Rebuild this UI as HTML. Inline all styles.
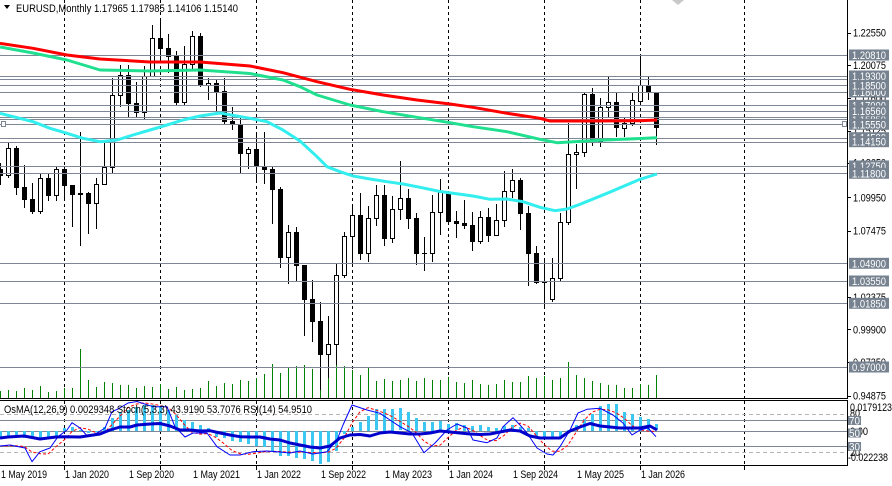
<!DOCTYPE html>
<html><head><meta charset="utf-8">
<style>
html,body{margin:0;padding:0;background:#fff;width:892px;height:486px;overflow:hidden}
svg{display:block}
text{font-family:"Liberation Sans",Arial,sans-serif;font-size:11px}
</style></head><body>
<svg id="s" width="892" height="486" viewBox="0 0 892 486" xmlns="http://www.w3.org/2000/svg">
<defs>
<clipPath id="cm"><rect x="0" y="0" width="847" height="398"/></clipPath>
<clipPath id="ci"><rect x="0" y="401" width="847" height="64"/></clipPath>
</defs>
<rect width="892" height="486" fill="#fff"/>
<g id="gm" clip-path="url(#cm)"></g>
<g id="gi" clip-path="url(#ci)"></g>

<!-- borders -->
<g shape-rendering="crispEdges" stroke="#000" stroke-width="1">
<line x1="847.5" y1="0" x2="847.5" y2="398"/>
<line x1="0" y1="398.5" x2="848" y2="398.5"/>
<line x1="0" y1="400.5" x2="848" y2="400.5"/>
<line x1="0" y1="465.5" x2="848" y2="465.5"/>
<line x1="847.5" y1="400" x2="847.5" y2="466"/>
</g>

<!-- header -->
<polygon points="4,5 10,5 7,9" fill="#000"/>
<text x="16" y="12" textLength="222" lengthAdjust="spacingAndGlyphs" fill="#000">EURUSD,Monthly  1.17965 1.17985 1.14106 1.15140</text>
<polygon points="672,0 684,0 678,5" fill="#c8c8c8"/>

<text x="4" y="413" textLength="308" lengthAdjust="spacingAndGlyphs" fill="#000">OsMA(12,26,9) 0.0029348  Stoch(5,3,3) 43.9190 53.7076  RSI(14) 54.9510</text>

<g id="scale"></g>

<!-- time axis -->
<g fill="#000">
<text x="1" y="478" textLength="46" lengthAdjust="spacingAndGlyphs">1 May 2019</text>
<text x="65" y="478" textLength="44" lengthAdjust="spacingAndGlyphs">1 Jan 2020</text>
<text x="129" y="478" textLength="45" lengthAdjust="spacingAndGlyphs">1 Sep 2020</text>
<text x="193" y="478" textLength="47" lengthAdjust="spacingAndGlyphs">1 May 2021</text>
<text x="257" y="478" textLength="44" lengthAdjust="spacingAndGlyphs">1 Jan 2022</text>
<text x="321" y="478" textLength="45" lengthAdjust="spacingAndGlyphs">1 Sep 2022</text>
<text x="385" y="478" textLength="47" lengthAdjust="spacingAndGlyphs">1 May 2023</text>
<text x="449" y="478" textLength="44" lengthAdjust="spacingAndGlyphs">1 Jan 2024</text>
<text x="513" y="478" textLength="45" lengthAdjust="spacingAndGlyphs">1 Sep 2024</text>
<text x="577" y="478" textLength="47" lengthAdjust="spacingAndGlyphs">1 May 2025</text>
<text x="641" y="478" textLength="44" lengthAdjust="spacingAndGlyphs">1 Jan 2026</text>
</g>
</svg>
<script>
(function(){
const NS="http://www.w3.org/2000/svg";
function el(tag,attrs,parent,txt){const e=document.createElementNS(NS,tag);for(const k in attrs)e.setAttribute(k,attrs[k]);if(txt!==undefined)e.textContent=txt;parent.appendChild(e);return e;}
const gm=document.getElementById('gm'), gi=document.getElementById('gi'), sc=document.getElementById('scale');
const Y=p=>32.7+(1.2255-p)*1311.6;
const LC="#7d8795", BOX="#76828f";

// vertical dashed grid
[64,160,256,352,448,544,640,744].forEach(x=>{
  el('line',{x1:x+0.5,y1:0,x2:x+0.5,y2:398,stroke:"#000","stroke-dasharray":"3,3","shape-rendering":"crispEdges"},gm);
  el('line',{x1:x+0.5,y1:401,x2:x+0.5,y2:465,stroke:"#000","stroke-dasharray":"3,3","shape-rendering":"crispEdges"},gi);
  el('line',{x1:x+0.5,y1:466,x2:x+0.5,y2:470,stroke:"#000","shape-rendering":"crispEdges"},sc);
});

// volume
const V=[391,390,391,388.3,390,386,392,390.7,388.3,388.3,349,380,386.7,382,382.7,385,385,388.3,386,386.7,384.3,389.3,387,390,389,388.3,381,386,382.7,384,380,381,378.3,374,364,372.7,367.7,366,365,369,359.3,356.7,359,366,370,374.7,367.7,381,379,380.7,380,377.7,380.7,378,380,380,377.3,382,382.7,380,384,384.7,384,380.3,381.7,381.7,376,378,376,380,378.3,362,375,378.3,381,382.7,385,385,388,388,384,385,375];
V.forEach((v,k)=>{el('line',{x1:8*k+0.5,y1:398,x2:8*k+0.5,y2:Math.round(v),stroke:"#008000","shape-rendering":"crispEdges"},gm);});

// candles
const P=[[1.1215,1.1265,1.1105,1.1169],[1.1169,1.1412,1.1158,1.1373],[1.1373,1.1389,1.1027,1.1076],[1.1076,1.1250,1.0926,1.0989],[1.0989,1.1110,1.0879,1.0899],[1.0899,1.1179,1.0879,1.1151],[1.1151,1.1175,1.0981,1.1017],[1.1017,1.1240,1.0981,1.1213],[1.1213,1.1239,1.0992,1.1093],[1.1093,1.1095,1.0778,1.1026],[1.1026,1.1495,1.0636,1.1030],[1.1030,1.1039,1.0727,1.0954],[1.0954,1.1147,1.0767,1.1101],[1.1101,1.1422,1.1100,1.1234],[1.1234,1.1909,1.1186,1.1778],[1.1778,1.2011,1.1696,1.1936],[1.1936,1.2011,1.1612,1.1721],[1.1721,1.1881,1.1622,1.1647],[1.1647,1.2004,1.1603,1.1927],[1.1927,1.2310,1.1925,1.2216],[1.2216,1.2349,1.2054,1.2136],[1.2136,1.2243,1.1952,1.2075],[1.2075,1.2113,1.1704,1.1730],[1.1730,1.2150,1.1704,1.2020],[1.2020,1.2266,1.1986,1.2228],[1.2228,1.2254,1.1847,1.1858],[1.1858,1.1909,1.1752,1.1870],[1.1870,1.1900,1.1664,1.1808],[1.1808,1.1909,1.1563,1.1578],[1.1578,1.1692,1.1524,1.1558],[1.1558,1.1616,1.1186,1.1338],[1.1338,1.1386,1.1222,1.1370],[1.1370,1.1483,1.1121,1.1235],[1.1235,1.1495,1.1106,1.1217],[1.1217,1.1233,1.0806,1.1067],[1.1067,1.1076,1.0471,1.0545],[1.0545,1.0786,1.0349,1.0734],[1.0734,1.0773,1.0359,1.0484],[1.0484,1.0486,0.9952,1.0222],[1.0222,1.0369,0.9901,1.0055],[1.0055,1.0198,0.9536,0.9802],[0.9802,1.0094,0.9632,0.9883],[0.9883,1.0497,0.9730,1.0405],[1.0405,1.0736,1.0393,1.0705],[1.0705,1.0929,1.0483,1.0863],[1.0863,1.1033,1.0533,1.0576],[1.0576,1.0930,1.0516,1.0840],[1.0840,1.1095,1.0788,1.1016],[1.1016,1.1092,1.0635,1.0689],[1.0689,1.1012,1.0662,1.0910],[1.0910,1.1276,1.0834,1.0998],[1.0998,1.1065,1.0766,1.0843],[1.0843,1.0882,1.0488,1.0573],[1.0573,1.0695,1.0448,1.0575],[1.0575,1.1017,1.0516,1.0886],[1.0886,1.1140,1.0724,1.1039],[1.1039,1.1046,1.0795,1.0818],[1.0818,1.0898,1.0695,1.0805],[1.0805,1.0981,1.0768,1.0790],[1.0790,1.0885,1.0601,1.0668],[1.0668,1.0895,1.0650,1.0848],[1.0848,1.0916,1.0668,1.0713],[1.0713,1.0948,1.0709,1.0825],[1.0825,1.1202,1.0778,1.1047],[1.1047,1.1214,1.1001,1.1135],[1.1135,1.1146,1.0761,1.0884],[1.0884,1.0937,1.0333,1.0577],[1.0577,1.0630,1.0343,1.0354],[1.0354,1.0533,1.0178,1.0362]];
const Q=[[299.3,258,300.7,278.3],[277.7,213,280,221.7],[221.7,122.7,224,154.3],[154.3,144.3,188.3,151.7],[151.7,92,156,94.3],[94.3,88.3,145,140.7],[140.7,98.3,146,107.3],[106.7,76.7,116.7,101.7],[101.7,93.3,136,126.7],[127.7,118.3,136,123.3],[123.3,91.7,125,100],[100.7,55,100.7,85],[85.7,76,99.3,90.7],[92.7,92.7,144,127]];
const C=P.map(r=>r.map(Y)).concat(Q);
const gc=el('g',{"shape-rendering":"crispEdges"},gm);
C.forEach((r,k)=>{
  const x=8*k;const [o,h,l,c]=r;
  const top=Math.round(Math.min(o,c)), bot=Math.round(Math.max(o,c));
  el('line',{x1:x+0.5,y1:Math.round(h),x2:x+0.5,y2:Math.round(l)+1,stroke:"#000"},gc);
  if(bot-top<1){
    el('line',{x1:x-2,y1:top+0.5,x2:x+3,y2:top+0.5,stroke:"#000"},gc);
  } else {
    el('rect',{x:x-1.5,y:top+0.5,width:4,height:bot-top,fill:(c<o?"#fff":"#000"),stroke:"#000"},gc);
  }
});

// horizontal lines
const HL=[55,76,78.7,85.3,92,105.3,111,117.3,119.3,124.3,137.7,141.7,166,173.3,263.3,281,303.3,367];
HL.forEach(y=>{el('line',{x1:0,y1:Math.round(y)+0.5,x2:847,y2:Math.round(y)+0.5,stroke:LC,"shape-rendering":"crispEdges"},gm);});
el('rect',{x:1.5,y:121.5,width:4,height:5,fill:"#fff",stroke:LC,"shape-rendering":"crispEdges"},gm);
el('rect',{x:842.5,y:121.5,width:4,height:5,fill:"#fff",stroke:LC,"shape-rendering":"crispEdges"},gm);

// moving averages
function pl(pts,color,w,parent,extra){const a={points:pts.map(p=>p.join(',')).join(' '),fill:"none",stroke:color,"stroke-width":w,"stroke-linejoin":"round"};for(const k in (extra||{}))a[k]=extra[k];return el('polyline',a,parent);}
const green=[[0,47],[33,53],[67,60],[100,70],[150,71],[200,70],[250,73.5],[283,80],[300,86.7],[317,95],[350,105],[383,111.7],[417,117.3],[450,122.7],[473,126.7],[507,131.7],[540,139.3],[557,142.7],[590,140.7],[623,139.3],[657,137.7]];
const red=[[0,43.3],[33,48.3],[67,55],[100,59],[150,62],[200,62],[250,66],[283,72.7],[317,81.7],[350,89.3],[383,95],[417,100],[450,104],[473,107.3],[507,113.3],[540,118.3],[550,121],[590,121],[640,120.7],[657,120]];
const cyan=[[0,113.3],[33,121.7],[50,128.3],[67,133.3],[83,138.3],[100,141.7],[117,140],[133,135],[150,130],[167,125],[183,120],[200,116],[220,113],[250,118.3],[267,121.7],[283,130],[300,141],[317,156.7],[327,166.7],[340,171.7],[353,176],[370,179],[387,181.7],[403,184],[420,187.3],[440,191.5],[473,196],[490,199.3],[507,199],[523,201.7],[540,207.3],[555,210.7],[567,209],[580,204.3],[607,193.3],[640,179.3],[657,174]];
pl(cyan,"#33eeee",3,gm);
pl(green,"#20e090",3,gm);
pl(red,"#ff0000",3,gm);

// price scale labels
function stxt(y,t){el('line',{x1:847,y1:Math.round(y)+0.5,x2:851,y2:Math.round(y)+0.5,stroke:"#000","shape-rendering":"crispEdges"},sc);el('text',{x:853,y:y+4,fill:"#000",textLength:33,lengthAdjust:"spacingAndGlyphs"},sc,t);}
[[32.7,"1.22550"],[65,"1.20075"],[98,"1.17600"],[130.5,"1.15125"],[162.5,"1.12650"],[197.3,"1.09950"],[230.7,"1.07475"],[297,"1.02375"],[329.3,"0.99900"],[362,"0.97350"],[395.7,"0.94875"]].forEach(a=>stxt(a[0],a[1]));
function box(y,t){el('rect',{x:849,y:y-5.5,width:40,height:11,fill:BOX},sc);el('text',{x:852,y:y+4,fill:"#fff",textLength:34,lengthAdjust:"spacingAndGlyphs"},sc,t);}
[[92,"1.18000"],[105.3,"1.17000"],[117.3,"1.15900"],[119.3,"1.15850"],[166,"1.12750"],[55,"1.20810"],[76,"1.19300"],[85.3,"1.18500"],[111,"1.16560"],[137.7,"1.14500"],[124.3,"1.15550"],[141.7,"1.14150"],[173.3,"1.11800"],[263.3,"1.04900"],[281,"1.03550"],[303.3,"1.01850"],[367,"0.97000"]].forEach(a=>box(a[0],a[1]));

// indicator window
[414,452].forEach(y=>el('line',{x1:0,y1:y+0.5,x2:847,y2:y+0.5,stroke:"#b4b4b4","stroke-dasharray":"4,3","shape-rendering":"crispEdges"},gi));
[420,431,446].forEach(y=>el('line',{x1:0,y1:y+0.5,x2:847,y2:y+0.5,stroke:LC,"shape-rendering":"crispEdges"},gi));
const O=[438,437,436,437,438,437,436,435,428,427,430,432,431,427,418,411.7,410,407,405,405,406,410,415,420,422,425,428,436,437,440,441,443,445,446,450,455,455,457,458,460,463,461,450,433,426.7,421.7,416,409.3,409,409,408.3,411.7,418,421.7,421.7,420.7,424,423.3,425,426,425,427,428,426,425,427,428,436,437,438,436,430,425,419,414,406,404,404,411.7,414,416.7,419,424.3];
const Z=430.5;
O.forEach((v,k)=>{const y1=Math.min(v,Z),y2=Math.max(v,Z);el('rect',{x:8*k-1,y:Math.round(y1),width:3,height:Math.max(1,Math.round(y2-y1)),fill:"#3cc6f2","shape-rendering":"crispEdges"},gi);});
const SM=[[0,446],[10,445],[25,448],[32,461.7],[40,451.7],[50,448],[58,436.7],[67,430],[72,422.7],[80,428],[88,436.7],[97,433],[105,428],[112,411.7],[118,409],[128,403],[137,401.5],[153,406.7],[167,406.7],[175,426.7],[185,437],[193,433],[207,433],[217,446.7],[230,455],[240,455],[253,451.7],[267,451],[280,452],[290,453],[300,451],[313,454],[327,451.7],[337,440],[343,425],[352,405],[367,410],[380,413.3],[390,420],[400,426.7],[412,433],[424,452.7],[435,443],[447,430],[457,424],[467,428],[473,440],[487,442.7],[497,438],[503,426.7],[513,417.7],[520,425],[527,433],[537,448],[547,454],[553,455],[560,446.7],[570,430],[578,413],[587,409.3],[600,408.3],[613,415],[623,423],[632,435],[640,430],[648,428],[656,436.7]];
function interp(pts,x){if(x<=pts[0][0])return pts[0][1];for(let i=1;i<pts.length;i++){if(x<=pts[i][0]){const a=pts[i-1],b=pts[i];return a[1]+(b[1]-a[1])*(x-a[0])/(b[0]-a[0]);}}return pts[pts.length-1][1];}
const m=[];for(let k=0;k<83;k++)m.push(interp(SM,8*k));
const sig=[];for(let k=0;k<83;k++){const a=m[Math.max(0,k-2)],b=m[Math.max(0,k-1)],c=m[k];sig.push([8*k,(a+b+c)/3]);}
pl(sig,"#ff0000",1,gi,{"stroke-dasharray":"3,2"});
pl(SM,"#0000ff",1,gi);
const RSI=[[0,438],[8,437],[24,436],[40,439],[56,437],[64,436.7],[80,437],[100,434],[110,430],[120,427],[130,427],[137,425],[150,424],[160,423.5],[170,426],[180,430],[190,430],[200,431],[210,430.7],[220,433],[230,435],[240,436.7],[250,437],[260,437],[270,439],[280,440],[290,443],[300,445],[310,447],[320,448],[330,446],[340,438],[350,435],[360,434.5],[370,436],[380,433],[390,432],[400,433],[410,434],[420,434],[430,433],[440,431],[450,432],[460,433],[470,434],[480,434.5],[490,434],[500,432],[510,430],[520,431],[530,436],[540,438],[550,438],[560,438],[570,431],[580,427],[590,423.5],[600,426],[610,427],[620,428],[640,428],[650,426],[657,430]];
pl(RSI,"#0000cc",3,gi);

// indicator scale
function it(y,t,len,x){el('text',{x:x||850,y:y+4,fill:"#000",textLength:len,lengthAdjust:"spacingAndGlyphs"},sc,t);}
it(413,"80",10);
it(407,"0.0179123",42);
it(431,"0.00",18);
it(452,"20",10);
it(457,"-0.022238",40,848);
function ib(y,t){el('rect',{x:848,y:y-4.5,width:13,height:9,fill:BOX},sc);el('text',{x:849,y:y+4,fill:"#fff",textLength:11,lengthAdjust:"spacingAndGlyphs"},sc,t);}
ib(420.5,"70");ib(433,"50");ib(446.5,"30");
})();
</script>
</body></html>
